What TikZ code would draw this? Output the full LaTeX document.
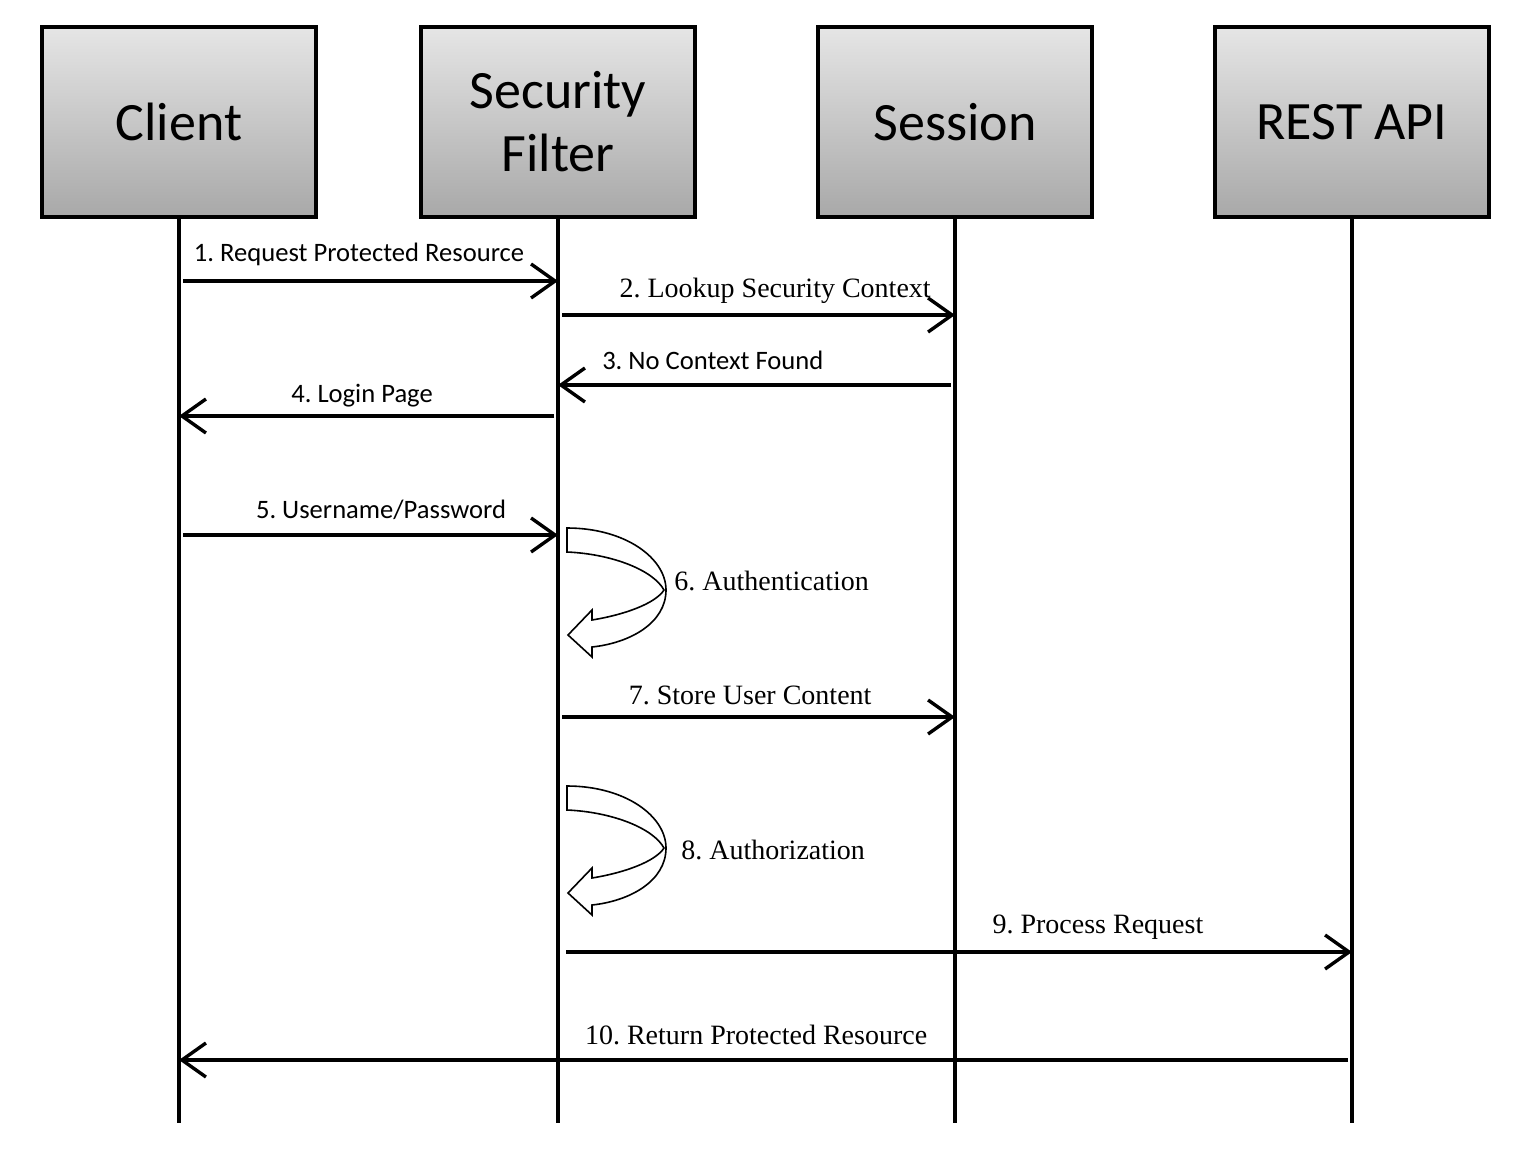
\documentclass[tikz,border=0pt]{standalone}
\usepackage{fontspec}
\setmainfont{Carlito}
\newfontfamily\labelserif{Liberation Serif}
\frenchspacing
\usetikzlibrary{arrows.meta,positioning}
\tikzset{
	actor/.style={draw,
			line width=1.8pt,
			top color=gray!20,
			bottom color=gray!68,
			minimum width=137pt,
			minimum height=95pt,
			align=center,
			font=\fontsize{27}{31.5}\selectfont
		},
	lifeline/.style={line width=1.6pt},
	msg/.style={line width=1.7pt,
			shorten <=2pt,
			-{Straight Barb[length=12pt,width=17pt]}
		},
	sanslabel/.style={font=\fontsize{13.3}{16}\selectfont, inner sep=0pt, anchor=base},
	seriflabel/.style={font=\labelserif\fontsize{14}{16}\selectfont, inner sep=0pt, anchor=base},
	turn/.style={draw, line width=0.8pt, fill=white},
	pics/selfturn/.style={code={
				\draw[turn] (0,0) .. controls (58,0) and (99,30) .. (99,62)
				.. controls (99,95) and (63,115) .. (25,119)
				-- (25,129) -- (1,107) -- (25,82) -- (25,92)
				.. controls (56,87) and (88,76) .. (97,62)
				.. controls (86,42) and (45,26) .. (0,24) -- cycle;
			}}
}

\begin{document}
\begin{tikzpicture}[x=0.5pt,y=-0.5pt]
		\useasboundingbox (0,0) rectangle (1530,1166);

		% Lifelines
		\node[actor] (client) at (179,122) {Client};
		\node[actor] (filter) at (558,122) {Security\\Filter};
		\node[actor] (session) at (955,122) {Session};
		\node[actor] (api) at (1352,122) {REST API};

		\draw[lifeline] (client.south) -- ++(0,904) coordinate (clientEnd);
		\draw[lifeline] (filter.south) -- ++(0,904) coordinate (filterEnd);
		\draw[lifeline] (session.south) -- ++(0,904) coordinate (sessionEnd);
		\draw[lifeline] (api.south) -- ++(0,904) coordinate (apiEnd);

		% Login
		\draw[msg] (client |- 0,281) -- (filter |- 0,281)
		node[sanslabel,pos=0.475,yshift=9.5pt]{1. Request Protected Resource};

		\draw[msg] (filter |- 0,315) -- (session |- 0,315)
		node[seriflabel,pos=0.547,yshift=9pt]{2. Lookup Security Context};

		\draw[msg] (session |- 0,385) -- (filter |- 0,385)
		node[sanslabel,pos=0.61,yshift=8pt]{3. No Context Found};

		\draw[msg] (filter |- 0,416) -- (client |- 0,416)
		node[sanslabel,pos=0.517,yshift=7pt]{4. Login Page};

		\draw[msg] (client |- 0,535) -- (filter |- 0,535)
		node[sanslabel,pos=0.533,yshift=8.5pt]{5. Username/Password};

		% Authentication
		\pic (authTurn) at (567,528) {selfturn};
		\node[seriflabel,anchor=base west] (authLbl) at (674,590) {6. Authentication};

		\draw[msg] (filter |- 0,717) -- (session |- 0,717)
		node[seriflabel,pos=0.484,yshift=6.5pt]{7. Store User Content};

		% Authorization
		\pic (authzTurn) at (567,786) {selfturn};
		\node[seriflabel,anchor=base west] (authzLbl) at (681,859) {8. Authorization};

		% Request and reply
		\draw[msg,shorten <=4pt] (filter |- 0,952) -- (api |- 0,952)
		node[seriflabel,pos=0.68,yshift=9.5pt]{9. Process Request};

		\draw[msg] (api |- 0,1060) -- (client |- 0,1060)
		node[seriflabel,pos=0.508,yshift=8pt]{10. Return Protected Resource};
	\end{tikzpicture}
\end{document}
